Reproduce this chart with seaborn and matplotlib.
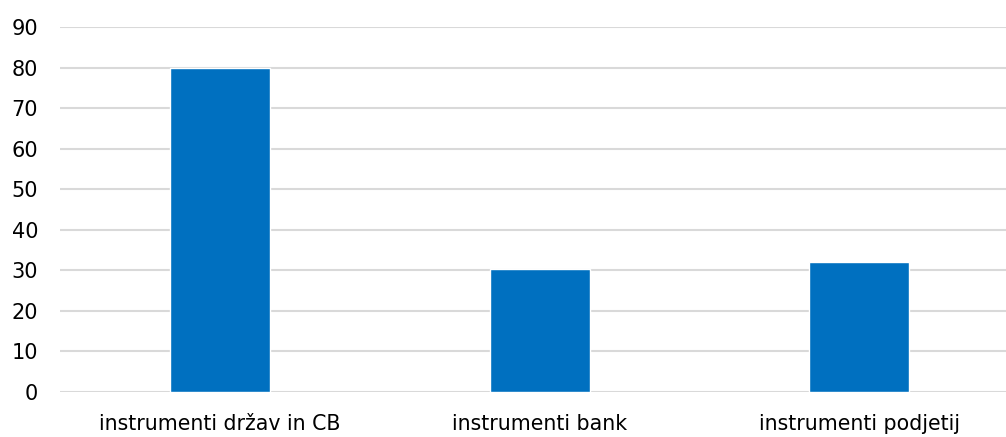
import matplotlib
matplotlib.use("Agg")
import matplotlib.pyplot as plt
import seaborn as sns
import pandas as pd

categories = ["instrumenti držav in CB", "instrumenti bank", "instrumenti podjetij"]
values = [80, 30.4, 32]
yticks = [0, 10, 20, 30, 40, 50, 60, 70, 80, 90]

sns.set_theme(style="white")
plt.rcParams['font.family'] = ['DejaVu Sans']

df = pd.DataFrame({"cat": categories, "val": values})

fig = plt.figure(figsize=(10.06, 4.37), dpi=100)
ax = fig.add_axes([0.0599, 0.103, 0.9528, 0.835])
sns.barplot(data=df, x="cat", y="val", color="#0070C0", width=0.313, ax=ax, zorder=3, saturation=1)
ax.set_ylim(0, 90)
ax.set_yticks(yticks)
ax.set_xlim(-0.5, 2.5)
ax.grid(axis="y", color="#D9D9D9", linewidth=1.5, zorder=0)
ax.set_axisbelow(True)
for s in ax.spines.values():
    s.set_visible(False)
ax.set_xlabel("")
ax.set_ylabel("")
ax.tick_params(axis="both", length=0, colors="black")
ax.tick_params(axis="x", labelsize=14.8, pad=16)
ax.tick_params(axis="y", labelsize=15, pad=16)
fig.savefig("out.png", dpi=100)
